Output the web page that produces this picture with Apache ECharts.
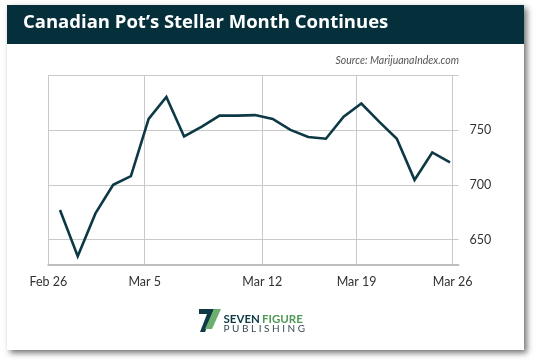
<!DOCTYPE html>
<html><head><meta charset="utf-8">
<script src="https://cdn.jsdelivr.net/npm/echarts@6/dist/echarts.min.js"></script>
<style>html,body{margin:0;padding:0;background:#fff}#c{width:540px;height:362px}</style>
</head><body><div id="c"></div>
<script>
// Data (point index order, roughly daily from Feb 26 to Mar 26)
const values = [677, 635, 674, 700, 708, 760, 780, 744, 753, 763, 763, 763.5, 760, 750, 743.5, 742, 762, 774, 757.5, 742, 704.5, 729.5, 720.5];
const xTickLabels = ['Feb 26', 'Mar 5', 'Mar 12', 'Mar 19', 'Mar 26'];
const xTickPos = [-0.66, 4.78, 11.41, 16.73, 22.15];
const yTickLabels = [650, 700, 750];
const title = 'Canadian Pot\u2019s Stellar Month Continues';
const source = 'Source: MarijuanaIndex.com';

const chart = echarts.init(document.getElementById('c'), null, {renderer: 'canvas'});
const font = 'Lato, "Open Sans", sans-serif';
chart.setOption({
  animation: false,
  backgroundColor: '#ffffff',
  grid: {left: 48.3, right: 81.5, top: 75, bottom: 97, containLabel: false},
  xAxis: {
    type: 'value', min: -0.66, max: 22.48,
    axisLine: {show: true, onZero: false, lineStyle: {color: '#bdbdbd', width: 2}},
    axisTick: {show: true, customValues: xTickPos, length: 0},
    axisLabel: {customValues: xTickPos, margin: 10, color: '#333', fontFamily: font, fontSize: 12.5,
      formatter: v => { const k = xTickPos.findIndex(p => Math.abs(p - v) < 1e-6); return k >= 0 ? xTickLabels[k] : ''; }},
    splitLine: {show: true, lineStyle: {color: '#c9c9c9', width: 1}}
  },
  yAxis: {
    type: 'value', position: 'right', min: 627, max: 800,
    axisLine: {show: false},
    axisTick: {show: false, customValues: yTickLabels.concat([800])},
    axisLabel: {customValues: yTickLabels, margin: 11, color: '#333', fontFamily: font, fontSize: 12.5, align: 'left'},
    splitLine: {show: true, lineStyle: {color: '#c9c9c9', width: 1}}
  },
  series: [{
    type: 'line', data: values.map((v, i) => [i, v]), symbol: 'none', clip: false,
    lineStyle: {color: '#0c3945', width: 2.6, join: 'miter'}
  }],
  graphic: [
    {type: 'rect', z: -10, shape: {x: 7, y: 5, width: 517, height: 345},
      style: {fill: '#fff', shadowBlur: 6, shadowOffsetX: 3, shadowOffsetY: 3, shadowColor: 'rgba(0,0,0,0.55)'}},
    {type: 'rect', z: -5, shape: {x: 7, y: 5, width: 517, height: 39}, style: {fill: '#05303b'}},
    {type: 'text', left: 23, top: 13, style: {text: title, fill: '#fff', font: 'bold 18.5px "Open Sans", sans-serif'}},
    {type: 'text', right: 81, top: 55, style: {text: source, fill: '#555', font: 'italic 10.5px ' + font, textAlign: 'right'}},
    // logo
    {type: 'polygon', shape: {points: [[199,309],[214,309],[205,332],[200,332],[207,314],[199,314]]}, style: {fill: '#0d3a45'}},
    {type: 'polygon', shape: {points: [[214,309],[221,309],[212,329],[205,329]]}, style: {fill: '#6cae6e'}},
    {type: 'text', left: 223.5, top: 313, style: {text: 'SEVEN', fill: '#0d3a45', font: 'bold 11.5px ' + font}},
    {type: 'text', left: 262, top: 313, style: {text: 'FIGURE', fill: '#4f9a55', font: 'bold 11.5px ' + font}},
    {type: 'text', left: 223.5, top: 323.5, style: {text: 'P U B L I S H I N G', fill: '#3a4a50', font: '10px ' + font}}
  ]
});
</script></body></html>
